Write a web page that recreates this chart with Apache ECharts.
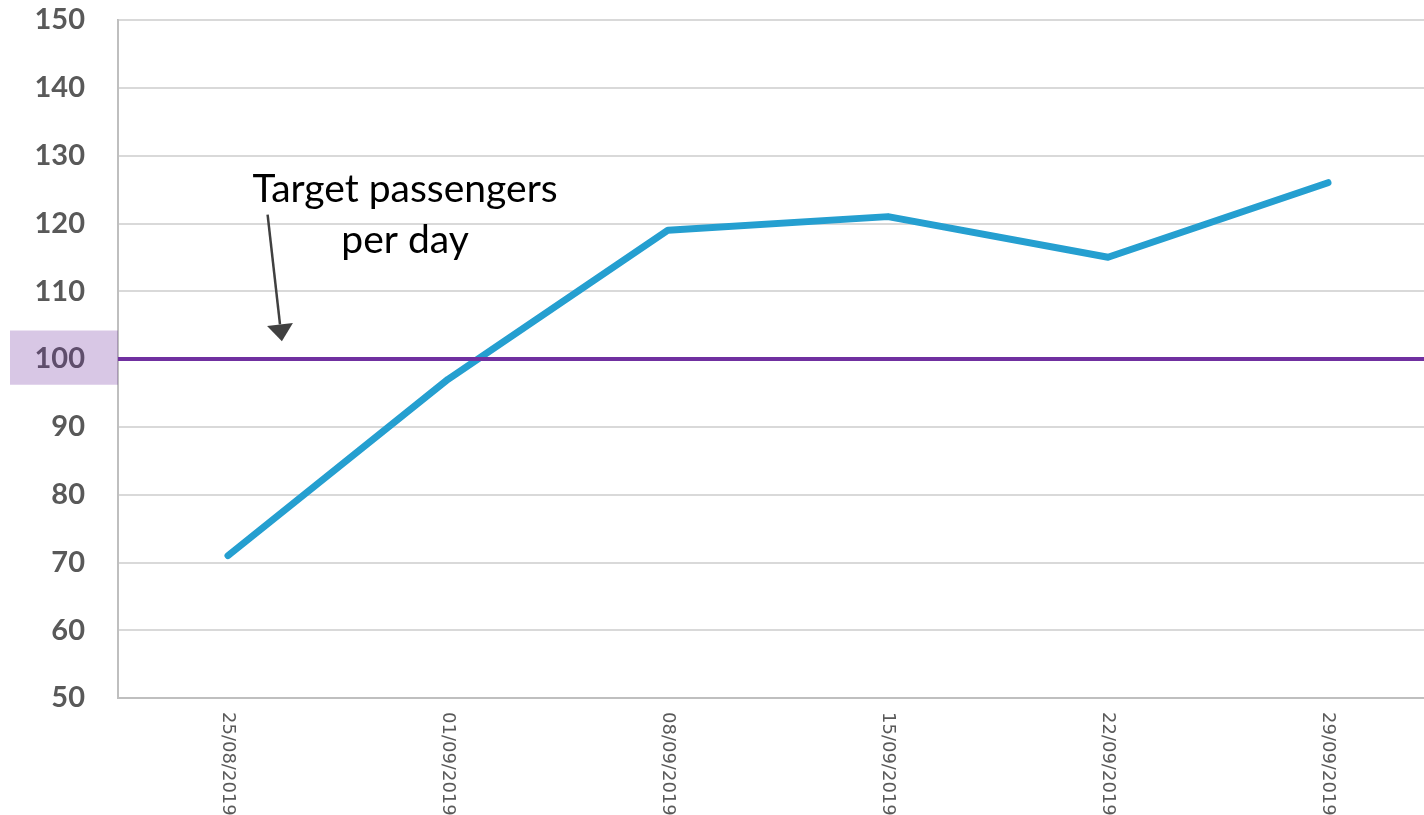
<!DOCTYPE html>
<html>
<head>
<meta charset="utf-8">
<script src="https://cdn.jsdelivr.net/npm/echarts@6/dist/echarts.min.js"></script>
<style>
html,body{margin:0;padding:0;background:#fff;overflow:hidden;width:1424px;height:815px;}
#chart{width:1442px;height:815px;}
</style>
</head>
<body>
<div id="chart"></div>
<script>
const categories = ['25/08/2019', '01/09/2019', '08/09/2019', '15/09/2019', '22/09/2019', '29/09/2019'];
const passengers = [71, 97, 119, 121, 115, 126];
const target = 100;
const yMin = 50, yMax = 150, yStep = 10;
const annotationText = 'Target passengers\nper day';

const chart = echarts.init(document.getElementById('chart'));
chart.setOption({
  animation: false,
  grid: { left: 118, right: 4, top: 20, bottom: 117, outerBoundsMode: 'none', containLabel: false, show: true, borderColor: '#B4B4B4', borderWidth: 2, backgroundColor: 'transparent' },
  xAxis: {
    type: 'category',
    data: categories,
    boundaryGap: true,
    axisLine: { lineStyle: { color: '#BFBFBF', width: 2 } },
    axisTick: { show: false },
    axisLabel: { rotate: -90, margin: 14, color: '#595959', fontFamily: 'DejaVu Sans', fontSize: 18 }
  },
  yAxis: {
    type: 'value',
    min: yMin, max: yMax, interval: yStep,
    axisLine: { show: true, lineStyle: { color: '#BFBFBF', width: 2 } },
    axisTick: { show: false },
    splitLine: { lineStyle: { color: '#D9D9D9', width: 2 } },
    axisLabel: { margin: 33, color: '#595959', fontFamily: 'Lato', fontWeight: 'bold', fontSize: 29 }
  },
  series: [{
    type: 'line',
    data: passengers,
    symbol: 'none',
    lineStyle: { color: '#259FD0', width: 7, cap: 'round', join: 'round' },
    markLine: {
      silent: true,
      symbol: 'none',
      label: { show: false },
      lineStyle: { color: '#7030A0', width: 4, type: 'solid' },
      data: [{ yAxis: target }]
    }
  }]
});

function drawAnnotations() {
  const x0 = chart.convertToPixel({ xAxisIndex: 0 }, 0);
  const x1 = chart.convertToPixel({ xAxisIndex: 0 }, 1);
  const band = x1 - x0;
  const py = v => chart.convertToPixel({ yAxisIndex: 0 }, v);
  const gridLeft = x0 - band / 2;
  const boxTop = py(target + 4.2), boxBot = py(target - 3.8);
  const tailX = x0 + 0.18 * band, tailY = py(121.3);
  const tipX = x0 + 0.245 * band, tipY = py(102.6);
  const headLen = 17, headHalf = 13;
  const dx = tipX - tailX, dy = tipY - tailY;
  const len = Math.sqrt(dx * dx + dy * dy);
  const ux = dx / len, uy = dy / len;
  const bx = tipX - ux * headLen, by = tipY - uy * headLen;
  chart.setOption({
    graphic: [
      { type: 'rect', z: 100, shape: { x: 10, y: boxTop, width: gridLeft - 10, height: boxBot - boxTop }, style: { fill: 'rgba(112,48,160,0.27)' } },
      { type: 'line', z: 100, shape: { x1: tailX, y1: tailY, x2: bx, y2: by }, style: { stroke: '#404040', lineWidth: 2.5 } },
      { type: 'polygon', z: 100, shape: { points: [[tipX, tipY], [bx - uy * headHalf, by + ux * headHalf], [bx + uy * headHalf, by - ux * headHalf]] }, style: { fill: '#404040' } },
      { type: 'text', z: 100, x: x0 + 0.805 * band, y: py(128.7), style: { text: annotationText, font: 'normal 39px Lato', fill: '#000', textAlign: 'center', textVerticalAlign: 'top', lineHeight: 51 } }
    ]
  });
}
drawAnnotations();
</script>
</body>
</html>
